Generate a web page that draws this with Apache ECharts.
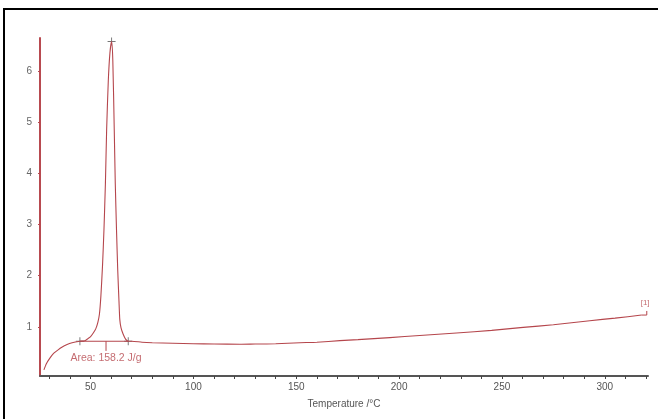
<!DOCTYPE html>
<html>
<head>
<meta charset="utf-8">
<script src="https://cdn.jsdelivr.net/npm/echarts@6/dist/echarts.min.js"></script>
<style>
  html, body { margin: 0; padding: 0; background: #fff; }
  #chart { width: 658px; height: 419px; }
</style>
</head>
<body>
<div id="chart"></div>
<script>
// DSC heat-flow trace (temperature in °C, signal in W/g)
const temperature = [
  27.3, 28.5, 30.2, 32.0, 34.2, 36.0, 38.3, 41.0, 44.8, 47.2, 48.7, 50.0, 51.3, 52.5,
  53.5, 54.3, 55.0, 55.8, 56.5, 57.2, 57.8, 58.6, 59.4, 60.2, 60.8, 61.5, 62.0, 62.6,
  63.2, 63.8, 64.2, 64.8, 65.8, 67.0, 68.3, 70, 75, 80, 90, 100, 110, 122.6, 130, 140,
  151.8, 160, 171.2, 180, 195.5, 210, 227.9, 245, 260.3, 275, 292.7, 305, 317.9
];
const heatFlow = [
  0.16, 0.28, 0.39, 0.48, 0.55, 0.60, 0.65, 0.69, 0.72, 0.73, 0.77, 0.81, 0.88, 0.96,
  1.08, 1.25, 1.60, 2.20, 2.90, 3.80, 4.85, 5.80, 6.35, 6.57, 6.20, 4.85, 3.80, 2.89,
  2.10, 1.50, 1.14, 0.98, 0.86, 0.76, 0.72, 0.72, 0.70, 0.69, 0.68, 0.67, 0.665, 0.66, 0.665, 0.67,
  0.69, 0.70, 0.73, 0.75, 0.79, 0.83, 0.88, 0.93, 0.99, 1.04, 1.12, 1.17, 1.23
];

// Integration baseline of the melting peak
const baseline = [[44.8, 0.72], [68.3, 0.72]];
// Cursor crosses: onset, peak maximum, end
const crossMarks = [[44.8, 0.72], [60.2, 6.57], [68.3, 0.72]];
// Area annotation leader and text anchor
const areaLeader = [[57.5, 0.72], [57.5, 0.53]];
const areaLabelPos = [57.5, 0.39];
const areaText = 'Area: 158.2 J/g';
// Curve tag at end of trace
const tagLeader = [[317.9, 1.23], [320.4, 1.23], [320.4, 1.31]];
const tagLabelPos = [319.6, 1.46];
const tagText = '[1]';

// Axis labels and ticks
const xLabels = [50, 100, 150, 200, 250, 300];
const xTicks = [30, 40, 50, 60, 70, 80, 90, 100, 110, 120, 130, 140, 150, 160, 170, 180,
  190, 200, 210, 220, 230, 240, 250, 260, 270, 280, 290, 300, 310, 320];
const yLabels = [1, 2, 3, 4, 5, 6];

const curveColor = '#b5464c';
const curve = temperature.map((t, i) => [t, heatFlow[i]]);

const chart = echarts.init(document.getElementById('chart'), null, { renderer: 'canvas' });
chart.setOption({
  animation: false,
  backgroundColor: '#fff',
  grid: { left: 40, right: 10, top: 38, bottom: 43 },
  xAxis: {
    type: 'value',
    min: 25.4, max: 321,
    name: 'Temperature /°C',
    nameLocation: 'middle',
    nameGap: 23,
    nameTextStyle: { color: '#555', fontSize: 10, fontFamily: 'Liberation Sans, Arial' },
    axisLine: { onZero: false, lineStyle: { color: '#555', width: 2 } },
    axisTick: { show: true, length: 3, customValues: xTicks, lineStyle: { color: '#444' } },
    axisLabel: { customValues: xLabels, color: '#555', fontSize: 10, margin: 6,
      fontFamily: 'Liberation Sans, Arial' },
    splitLine: { show: false }
  },
  yAxis: {
    type: 'value',
    min: 0.04, max: 6.64,
    axisLine: { show: true, onZero: false, lineStyle: { color: '#b84a50', width: 2 } },
    axisTick: { show: true, length: 2, customValues: yLabels, lineStyle: { color: '#b84a50' } },
    axisLabel: { customValues: yLabels, color: '#666', fontSize: 10, margin: 8,
      fontFamily: 'Liberation Sans, Arial' },
    splitLine: { show: false }
  },
  graphic: [
    { type: 'rect', shape: { x: 4, y: 8, width: 654, height: 2 }, style: { fill: '#000' } },
    { type: 'rect', shape: { x: 3, y: 8, width: 2, height: 411 }, style: { fill: '#000' } }
  ],
  series: [
    {
      type: 'line', data: curve, showSymbol: false, smooth: 0.2,
      lineStyle: { color: curveColor, width: 1.1 }
    },
    {
      type: 'line', data: baseline, showSymbol: false,
      lineStyle: { color: curveColor, width: 1.1 }
    },
    {
      type: 'line', data: areaLeader, showSymbol: false,
      lineStyle: { color: curveColor, width: 1 }
    },
    {
      type: 'line', data: tagLeader, showSymbol: false,
      lineStyle: { color: curveColor, width: 1 }
    },
    {
      type: 'scatter', data: crossMarks,
      symbol: 'path://M0,4.4H10V5.6H0Z M4.4,0H5.6V10H4.4Z', symbolSize: 8,
      itemStyle: { color: '#555' }
    },
    {
      type: 'scatter', data: [areaLabelPos, tagLabelPos], symbolSize: 0,
      label: {
        show: true, position: 'inside',
        formatter: p => (p.dataIndex === 0 ? areaText : tagText),
        rich: {},
        color: curveColor, fontSize: 10.5, fontFamily: 'Liberation Sans, Arial'
      },
      emphasis: { disabled: true }
    }
  ]
});
// Smaller tag text for the curve index
chart.setOption({
  series: [{}, {}, {}, {}, {}, {
    label: {
      formatter: p => (p.dataIndex === 0 ? areaText : '{t|' + tagText + '}'),
      rich: { t: { fontSize: 8, color: curveColor, fontFamily: 'Liberation Sans, Arial' } }
    }
  }]
});
</script>
</body>
</html>
